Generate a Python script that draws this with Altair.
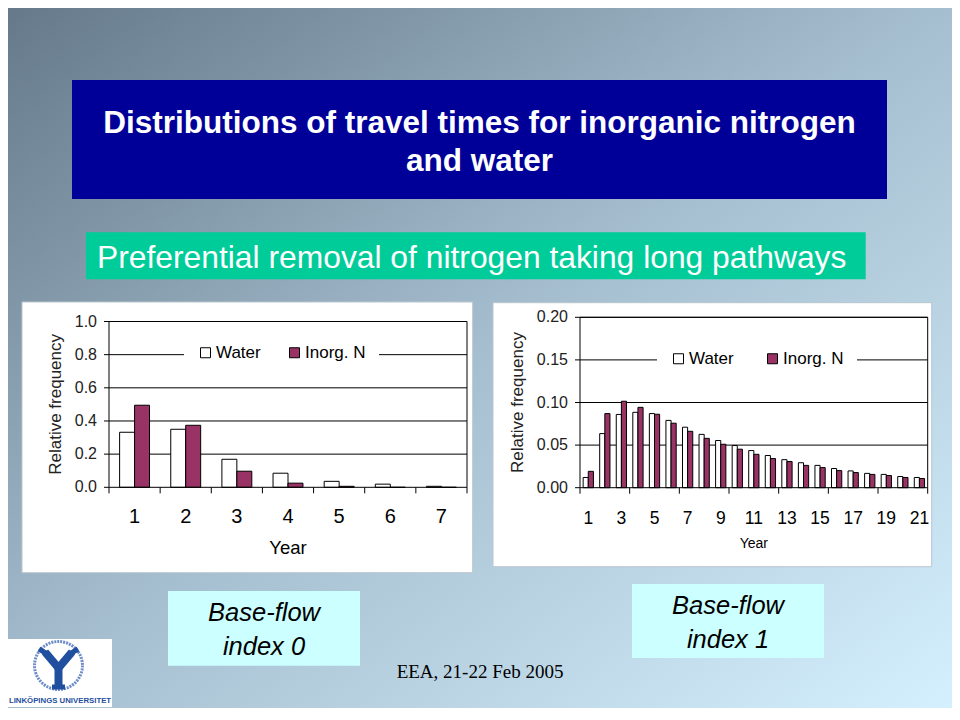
import altair as alt
import pandas as pd

# ---------------- data ----------------
series = ["Water", "Inorg. N"]
series_colors = ["#ffffff", "#993366"]

years_a = ["1", "2", "3", "4", "5", "6", "7"]
water_a = [0.332, 0.350, 0.169, 0.085, 0.036, 0.019, 0.006]
inorg_a = [0.495, 0.374, 0.097, 0.025, 0.006, 0.0, 0.0]
yticks_a = [0.0, 0.2, 0.4, 0.6, 0.8, 1.0]
ylabels_a = ["0.0", "0.2", "0.4", "0.6", "0.8", "1.0"]
xlabel_pos_a = [1, 2, 3, 4, 5, 6, 7]
xlabels_a = ["1", "2", "3", "4", "5", "6", "7"]
xticks_a = [0.5, 1.5, 2.5, 3.5, 4.5, 5.5, 6.5, 7.5]

years_b = ["1", "2", "3", "4", "5", "6", "7", "8", "9", "10", "11",
           "12", "13", "14", "15", "16", "17", "18", "19", "20", "21"]
water_b = [0.012, 0.0635, 0.086, 0.0885, 0.087, 0.079, 0.071, 0.0626, 0.0554, 0.0495, 0.0436,
           0.0378, 0.0329, 0.0293, 0.0262, 0.0225, 0.0197, 0.0168, 0.0156, 0.0131, 0.012]
inorg_b = [0.0192, 0.087, 0.1015, 0.0943, 0.0862, 0.0757, 0.0662, 0.0579, 0.051, 0.0452, 0.0392,
           0.0342, 0.0307, 0.0262, 0.0236, 0.0201, 0.0178, 0.0156, 0.0143, 0.012, 0.0108]
yticks_b = [0.0, 0.05, 0.10, 0.15, 0.20]
ylabels_b = ["0.00", "0.05", "0.10", "0.15", "0.20"]
xlabel_pos_b = [1, 3, 5, 7, 9, 11, 13, 15, 17, 19, 21]
xlabels_b = ["1", "3", "5", "7", "9", "11", "13", "15", "17", "19", "21"]
xticks_b = [0.5, 3.5, 6.5, 9.5, 12.5, 15.5, 18.5, 21.5]

title_lines = ["Distributions of travel times for inorganic nitrogen", "and water"]
subtitle = "Preferential removal of nitrogen taking long pathways"
box_a_lines = ["Base-flow", "index 0"]
box_b_lines = ["Base-flow", "index 1"]
footer = "EEA, 21-22 Feb 2005"
logo_text = "LINKÖPINGS UNIVERSITET"
axis_x_title = "Year"
axis_y_title = "Relative frequency"

# ---------------- layout helpers ----------------
W, H = 944, 700
FONT = "Liberation Sans"
one = pd.DataFrame({"k": [0]})


def rect(x, x2, y, y2, **kw):
    return alt.Chart(one).mark_rect(**kw).encode(
        x=alt.value(x), x2=alt.value(x2), y=alt.value(y), y2=alt.value(y2))


def label(txt, x, y, **kw):
    kw.setdefault("font", FONT)
    return alt.Chart(one).mark_text(text=txt, **kw).encode(x=alt.value(x), y=alt.value(y))


def seg(x, y, x2, y2, **kw):
    return alt.Chart(one).mark_rule(**kw).encode(
        x=alt.value(x), y=alt.value(y), x2=alt.value(x2), y2=alt.value(y2))


def bar_panel(years, water, inorg, yticks, ylabels, xlab_pos, xlabs, xticks,
              x0, x1, ybot, ytop, ymax, pad, legend_x, legend_y,
              xlab_size, ylab_size, xtitle_size, xtitle_y, ytitle_x, col_pad):
    n = len(years)
    long = pd.DataFrame({
        "year": years * 2,
        "series": [series[0]] * n + [series[1]] * n,
        "value": water + inorg,
    })
    yscale = alt.Scale(domain=[0, ymax], range=[ybot, ytop], nice=False, zero=True)
    qx = alt.Scale(domain=[0.5, n + 0.5], range=[x0, x1], nice=False, zero=False)
    grid_df = pd.DataFrame({"v": yticks[1:]})
    ytick_df = pd.DataFrame({"v": yticks, "lab": ylabels})
    xtick_df = pd.DataFrame({"p": xticks})
    xlab_df = pd.DataFrame({"p": xlab_pos, "lab": xlabs})

    grid = alt.Chart(grid_df).mark_rule(color="black", strokeWidth=1).encode(
        y=alt.Y("v:Q", scale=yscale, axis=None),
        x=alt.value(x0), x2=alt.value(x1))
    bars = alt.Chart(long).mark_bar(stroke="black", strokeWidth=1).encode(
        x=alt.X("year:N", sort=years, axis=None,
                scale=alt.Scale(type="band", domain=years, range=[x0, x1],
                                paddingInner=pad, paddingOuter=pad / 2)),
        xOffset=alt.XOffset("series:N", sort=series,
                            scale=alt.Scale(domain=series, paddingInner=0, paddingOuter=0)),
        y=alt.Y("value:Q", scale=yscale, axis=None),
        color=alt.Color("series:N", sort=series,
                        scale=alt.Scale(domain=series, range=series_colors),
                        legend=alt.Legend(orient="none", legendX=legend_x, legendY=legend_y,
                                          direction="horizontal", columns=2, title=None,
                                          fillColor="white", padding=13,
                                          symbolType="square", symbolSize=100,
                                          symbolStrokeColor="black", symbolStrokeWidth=1,
                                          symbolOpacity=1,
                                          labelFont=FONT, labelFontSize=17, labelColor="black",
                                          labelOffset=2, columnPadding=col_pad)),
    )
    border = rect(x0, x1, ytop, ybot, fill=None, stroke="black", strokeWidth=1)
    yt = alt.Chart(ytick_df).mark_rule(color="black").encode(
        y=alt.Y("v:Q", scale=yscale, axis=None), x=alt.value(x0 - 5), x2=alt.value(x0))
    ylab = alt.Chart(ytick_df).mark_text(align="right", baseline="middle", font=FONT,
                                         fontSize=ylab_size, color="#222222").encode(
        y=alt.Y("v:Q", scale=yscale, axis=None), x=alt.value(x0 - 12), text="lab:N")
    xt = alt.Chart(xtick_df).mark_rule(color="black").encode(
        x=alt.X("p:Q", scale=qx, axis=None), y=alt.value(ybot), y2=alt.value(ybot + 6))
    xlab = alt.Chart(xlab_df).mark_text(align="center", baseline="alphabetic", font=FONT,
                                        fontSize=xlab_size, color="black").encode(
        x=alt.X("p:Q", scale=qx, axis=None), y=alt.value(ybot + 36), text="lab:N")
    xtitle = label(axis_x_title, (x0 + x1) / 2, xtitle_y, fontSize=xtitle_size,
                   align="center", baseline="alphabetic", color="black")
    ytitle = label(axis_y_title, ytitle_x, (ytop + ybot) / 2, fontSize=17, angle=270,
                   align="center", baseline="middle", color="#222222")
    return [grid, bars, border, yt, ylab, xt, xlab, xtitle, ytitle]


gradient = alt.LinearGradient(
    gradient="linear", x1=0, y1=0, x2=1, y2=1,
    stops=[alt.GradientStop(color="#65798a", offset=0),
           alt.GradientStop(color="#a6bfd0", offset=0.5),
           alt.GradientStop(color="#d4effd", offset=1)])

layers = [
    rect(0, W, 0, H, fill=gradient),
    # title banner
    rect(64, 879, 72, 191, fill="#000099"),
    label(title_lines[0], 471.5, 125.3, fontSize=31.5, fontWeight="bold", color="white",
          align="center", baseline="alphabetic"),
    label(title_lines[1], 471.5, 163, fontSize=31.5, fontWeight="bold", color="white",
          align="center", baseline="alphabetic"),
    # subtitle banner
    rect(78, 857.7, 224.3, 271.3, fill="#00CC99"),
    label(subtitle, 89, 259.7, fontSize=31.8, color="white", align="left", baseline="alphabetic"),
    # chart panels
    rect(14, 464.7, 294, 564.7, fill="white", stroke="#b9c6cf", strokeWidth=1),
    rect(485, 923.7, 294.7, 558.7, fill="white", stroke="#b9c6cf", strokeWidth=1),
]

layers += bar_panel(years_a, water_a, inorg_a, yticks_a, ylabels_a, xlabel_pos_a, xlabels_a,
                    xticks_a, 101, 459, 479.3, 313.5, 1.0, 0.415, 176, 323,
                    20, 16, 18.5, 546.3, 48, 25)
layers += bar_panel(years_b, water_b, inorg_b, yticks_b, ylabels_b, xlabel_pos_b, xlabels_b,
                    xticks_b, 572, 919.7, 479.7, 309.3, 0.20, 0.38, 649, 329,
                    17.5, 16, 14, 540.3, 510.3, 30)

layers += [
    # base-flow boxes
    rect(160, 352, 583, 657.7, fill="#CCFFFF"),
    label(box_a_lines[0], 256, 612.7, fontSize=25.5, fontStyle="italic", color="black",
          align="center", baseline="alphabetic"),
    label(box_a_lines[1], 256, 647, fontSize=25.5, fontStyle="italic", color="black",
          align="center", baseline="alphabetic"),
    rect(624, 816, 576, 650, fill="#CCFFFF"),
    label(box_b_lines[0], 720, 605.7, fontSize=25.5, fontStyle="italic", color="black",
          align="center", baseline="alphabetic"),
    label(box_b_lines[1], 720, 640, fontSize=25.5, fontStyle="italic", color="black",
          align="center", baseline="alphabetic"),
    # footer
    label(footer, 472, 670, font="Liberation Serif", fontSize=19, color="black",
          align="center", baseline="alphabetic"),
    # logo
    rect(0, 104, 631, 699, fill="white"),
    alt.Chart(one).mark_point(shape="circle", size=2300, filled=False, color="#6d8cc7",
                              strokeWidth=3, strokeDash=[2, 1], opacity=1).encode(
        x=alt.value(50.5), y=alt.value(657.5)),
    seg(50.5, 660, 37, 644, color="#1f4f9e", strokeWidth=8),
    seg(50.5, 660, 64, 644, color="#1f4f9e", strokeWidth=8),
    seg(50.5, 660, 50.5, 678, color="#1f4f9e", strokeWidth=8),
    seg(31, 641, 41, 647, color="#1f4f9e", strokeWidth=5),
    seg(70, 641, 60, 647, color="#1f4f9e", strokeWidth=5),
    seg(44, 679, 57, 679, color="#1f4f9e", strokeWidth=5),
    label(logo_text, 52, 695, fontSize=7.8, fontWeight="bold", color="#1f4f9e",
          align="center", baseline="alphabetic"),
]

chart = alt.layer(*layers).resolve_scale(
    x="independent", y="independent", color="independent", xOffset="independent"
).resolve_legend(color="independent").properties(
    width=W, height=H, padding=0, autosize=alt.AutoSizeParams(type="none")
).configure_view(strokeWidth=0)

chart.save("out.html", embed_options={"renderer": "svg", "actions": False})
